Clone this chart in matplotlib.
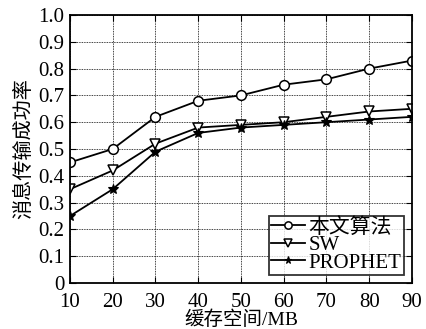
import matplotlib
matplotlib.use("Agg")
import matplotlib.pyplot as plt

plt.rcParams['font.family'] = ['Liberation Serif', 'Noto Sans CJK SC']

buffer_mb = [10, 20, 30, 40, 50, 60, 70, 80, 90]
ours = [0.45, 0.50, 0.62, 0.68, 0.70, 0.74, 0.76, 0.80, 0.83]
sw = [0.35, 0.42, 0.52, 0.58, 0.59, 0.60, 0.62, 0.64, 0.65]
prophet = [0.25, 0.35, 0.49, 0.56, 0.58, 0.59, 0.60, 0.61, 0.62]
labels = ["本文算法", "SW", "PROPHET"]
yticks = [0, 0.1, 0.2, 0.3, 0.4, 0.5, 0.6, 0.7, 0.8, 0.9, 1.0]
ytick_labels = ['0', '0.1', '0.2', '0.3', '0.4', '0.5', '0.6', '0.7', '0.8', '0.9', '1.0']

fig = plt.figure(figsize=(4.27, 3.29), dpi=100)
ax = fig.add_axes([70 / 427, 1 - 283 / 329, (412 - 70) / 427, (283 - 15) / 329])

ax.plot(buffer_mb, ours, '-', color='black', lw=1.3, marker='o', ms=7,
        mfc='white', mec='black', mew=1.1, label=labels[0])
ax.plot(buffer_mb, sw, '-', color='black', lw=1.3, marker='v', ms=7,
        mfc='white', mec='black', mew=1.1, label=labels[1])
ax.plot(buffer_mb, prophet, '-', color='black', lw=1.3, marker='*', ms=7,
        mfc='black', mec='black', mew=0.8, label=labels[2])

ax.set_xlim(10, 90)
ax.set_ylim(0, 1.0)
ax.set_xticks(buffer_mb)
ax.set_yticks(yticks)
ax.set_yticklabels(ytick_labels)
ax.grid(True, linestyle=(0, (1, 1)), color='black', lw=0.6)
ax.tick_params(direction='in', labelsize=15, length=4, width=0.8, right=True, top=True)
ax.tick_params(axis='x', pad=7)
ax.tick_params(axis='y', pad=4)
for s in ax.spines.values():
    s.set_linewidth(1.3)

ax.set_xlabel("缓存空间/MB", fontsize=14, labelpad=-1)
ax.set_ylabel("消息传输成功率", fontsize=14.5, labelpad=3)

leg = ax.legend(loc='lower right', fontsize=15, frameon=True, fancybox=False,
                edgecolor='black', handlelength=1.6, handletextpad=0.2,
                borderpad=0.1, labelspacing=-0.1, borderaxespad=0.4,
                markerscale=0.75)
leg.get_frame().set_linewidth(1.3)

fig.savefig("out.png", dpi=100)
